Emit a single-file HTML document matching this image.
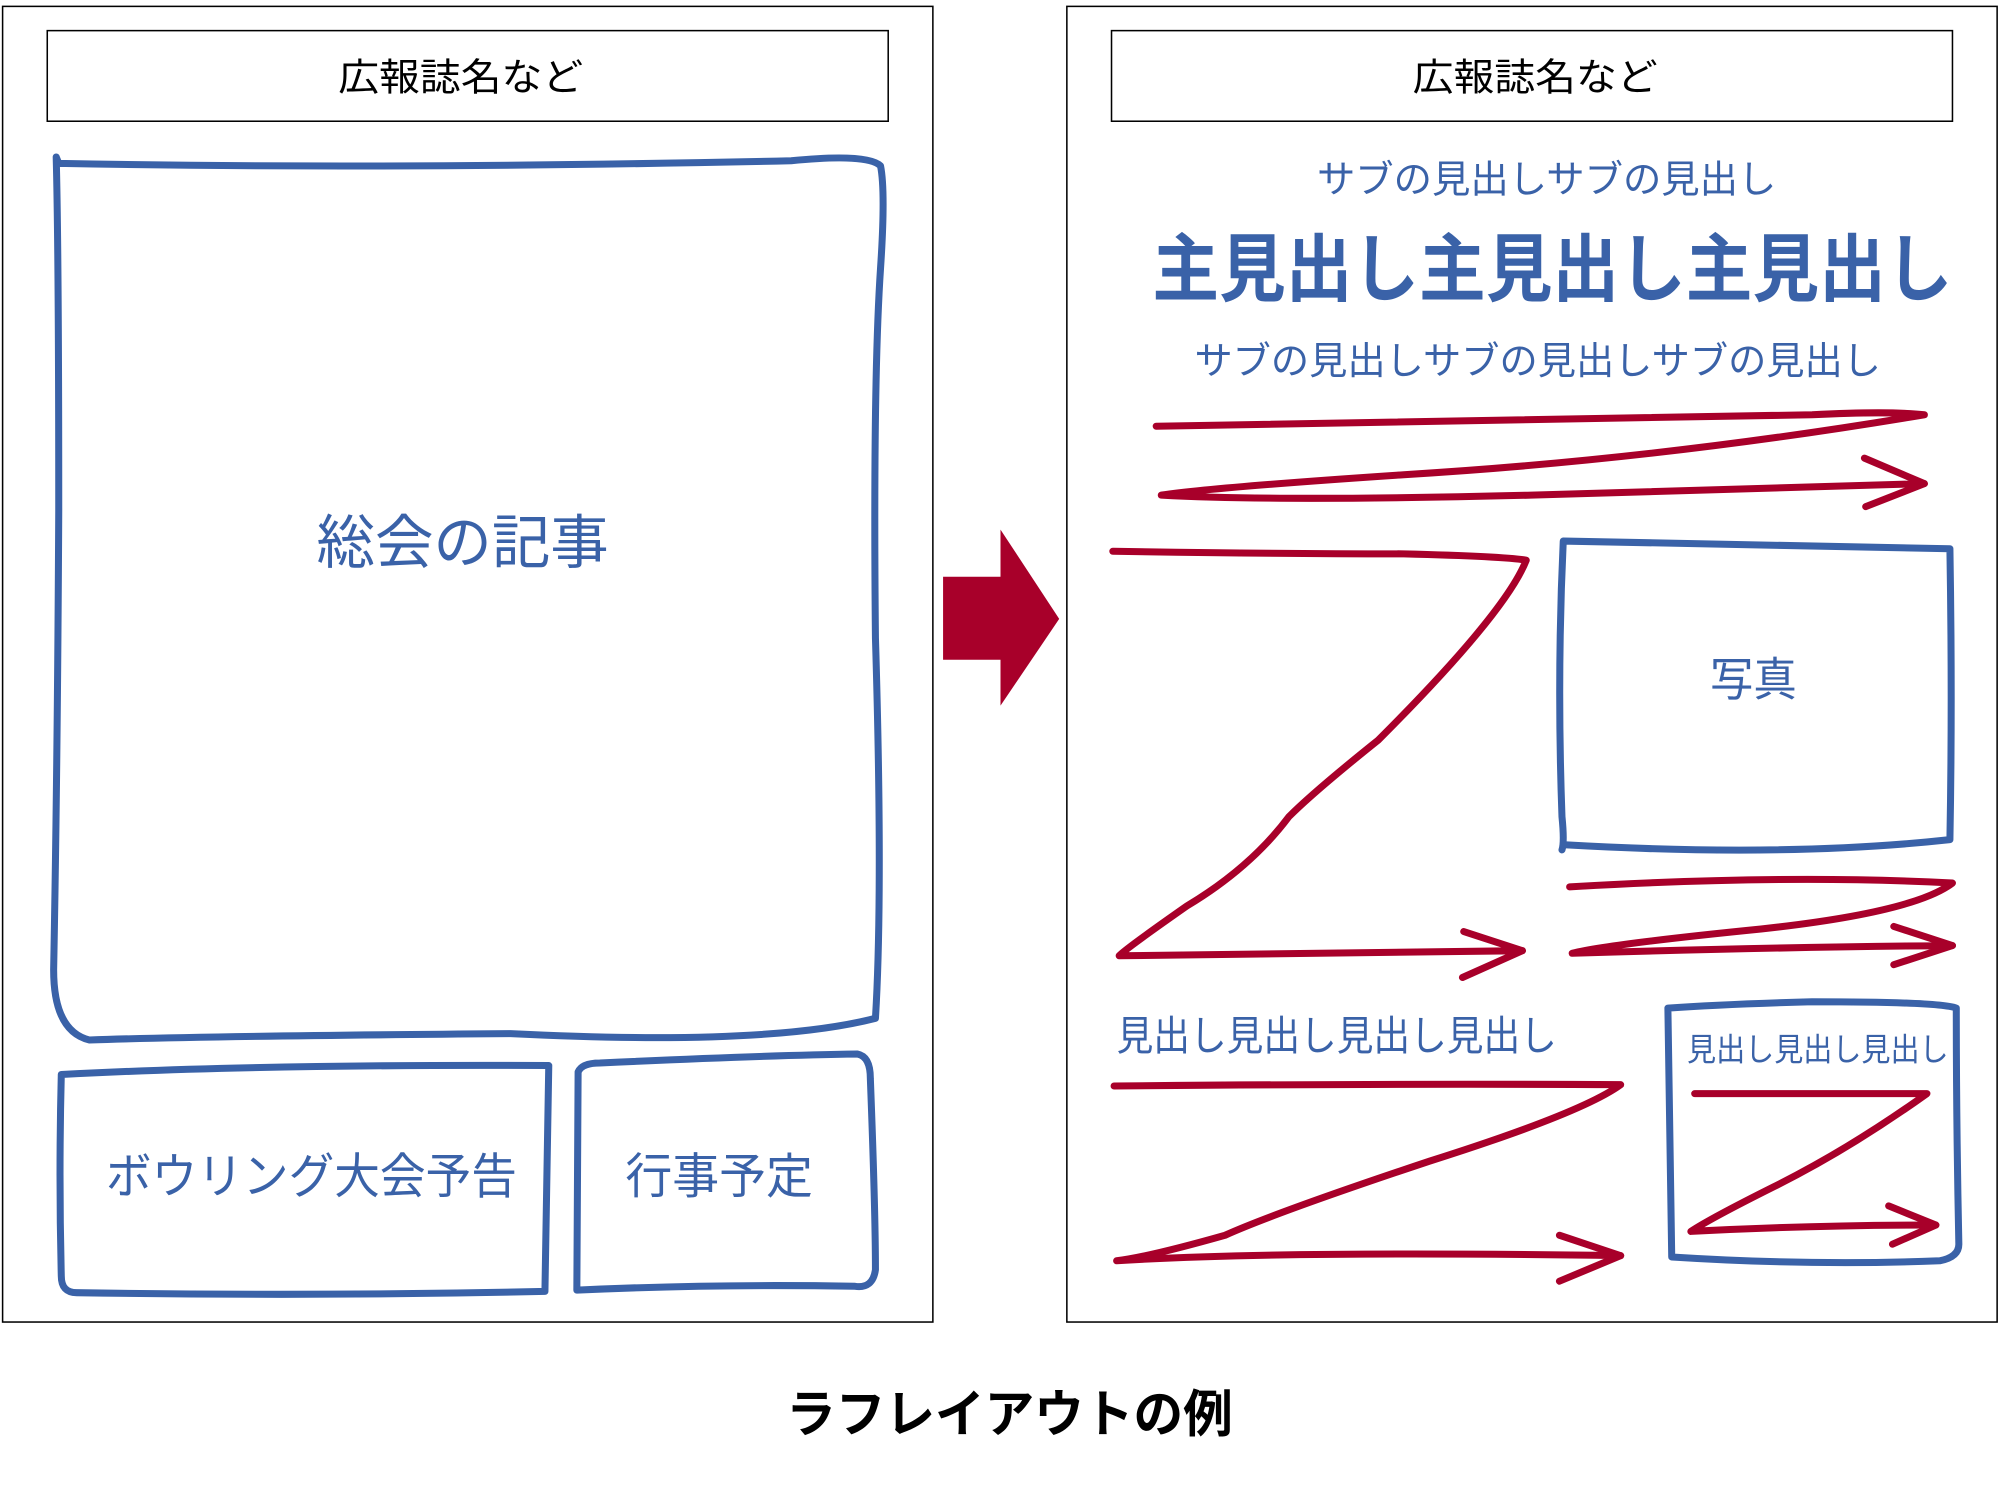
<!DOCTYPE html>
<html><head><meta charset="utf-8"><style>
html,body{margin:0;padding:0;background:#fff;width:2001px;height:1504px;overflow:hidden}
svg{display:block}
text{font-family:"Liberation Sans","Noto Sans CJK JP",sans-serif}
</style></head><body>
<svg width="2001" height="1504" viewBox="0 0 1568 1178.6" xmlns="http://www.w3.org/2000/svg">
<g fill="none" stroke="#000" stroke-width="1.2">
<rect x="2" y="5" width="729" height="1031"/>
<rect x="37" y="24" width="659" height="71"/>
<rect x="836" y="5" width="729" height="1031"/>
<rect x="871" y="24" width="659" height="71"/>
</g>
<g font-size="30" fill="#000">
<text x="265" y="71" textLength="192" lengthAdjust="spacingAndGlyphs">広報誌名など</text>
<text x="1107" y="71" textLength="192" lengthAdjust="spacingAndGlyphs">広報誌名など</text>
</g>
<g fill="none" stroke="#3a62a8" stroke-width="5.5" stroke-linecap="round" stroke-linejoin="round">
<path d="M44,123 L46,128 Q300,133 620,126 Q680,120 690,130 Q694,150 690,210 Q684,300 686,500 Q692,700 686,798 Q600,820 400,810 Q150,812 70,815 Q42,808 42,760 Q45,600 46,400 Q46,200 44,123"/>
<path d="M48,842 Q200,834 430,835 L427,1012 Q250,1016 60,1013 Q48,1013 48,1000 Q46,920 48,842"/>
<path d="M452,1011 L453,840 Q456,833 470,833 Q600,827 672,826 Q682,828 682,845 Q686,950 686,995 Q684,1010 670,1008 Q560,1006 452,1011"/>
<path d="M1224,666 Q1226,660 1224,640 Q1220,530 1225,424 Q1400,428 1528,430 Q1530,550 1528,658 Q1400,672 1226,662"/>
<path d="M1307,790 L1310,985 Q1420,992 1520,988 Q1535,985 1535,975 Q1533,880 1533,790 Q1520,785 1420,785 Q1350,787 1307,790"/>
</g>
<g fill="#3a62a8" lengthAdjust="spacingAndGlyphs">
<text x="248" y="441" font-size="46" textLength="229" lengthAdjust="spacingAndGlyphs">総会の記事</text>
<text x="83" y="935" font-size="38" textLength="322" lengthAdjust="spacingAndGlyphs">ボウリング大会予告</text>
<text x="490" y="935" font-size="38" textLength="147" lengthAdjust="spacingAndGlyphs">行事予定</text>
<text x="1032" y="151" font-size="30" textLength="360" lengthAdjust="spacingAndGlyphs">サブの見出しサブの見出し</text>
<text x="903" y="231" font-size="58" font-weight="bold" textLength="627" lengthAdjust="spacingAndGlyphs">主見出し主見出し主見出し</text>
<text x="936" y="293" font-size="30" textLength="538" lengthAdjust="spacingAndGlyphs">サブの見出しサブの見出しサブの見出し</text>
<text x="1340" y="545" font-size="36" textLength="68" lengthAdjust="spacingAndGlyphs">写真</text>
<text x="875" y="823" font-size="32" textLength="345" lengthAdjust="spacingAndGlyphs">見出し見出し見出し見出し</text>
<text x="1322" y="831" font-size="25" textLength="205" lengthAdjust="spacingAndGlyphs">見出し見出し見出し</text>
</g>
<path d="M739,452 H784 V415 L830,485 L784,553 V517 H739 Z" fill="#a8002a"/>
<g fill="none" stroke="#a8002a" stroke-width="5.5" stroke-linecap="round" stroke-linejoin="round">
<path d="M906,334 Q1200,330 1420,325 Q1480,322 1508,325 Q1300,360 1100,372 Q950,382 910,388 Q1000,393 1200,388 Q1400,382 1508,379"/>
<path d="M1461,359 L1508,379 L1462,397"/>
<path d="M872,432 Q1000,434 1100,434 Q1180,436 1196,439 Q1180,480 1080,580 Q1030,620 1010,640 Q980,680 930,710 Q880,745 877,749 Q1000,748 1193,745"/>
<path d="M1147,730 L1193,745 L1146,766"/>
<path d="M1230,695 Q1400,685 1530,692 Q1500,715 1380,728 Q1260,740 1232,747 Q1400,742 1530,741"/>
<path d="M1484,726 L1530,741 L1484,756"/>
<path d="M873,851 Q1100,849 1270,850 Q1240,872 1120,910 Q1000,950 960,968 Q900,985 875,988 Q1000,980 1270,984"/>
<path d="M1222,968 L1270,984 L1222,1004"/>
<path d="M1328,857 L1510,857 Q1450,900 1390,930 Q1340,955 1325,965 Q1420,960 1517,960"/>
<path d="M1480,945 L1517,960 L1483,975"/>
</g>
<text x="616" y="1122" font-size="40" font-weight="bold" fill="#000" textLength="350" lengthAdjust="spacingAndGlyphs">ラフレイアウトの例</text>
</svg>
</body></html>
